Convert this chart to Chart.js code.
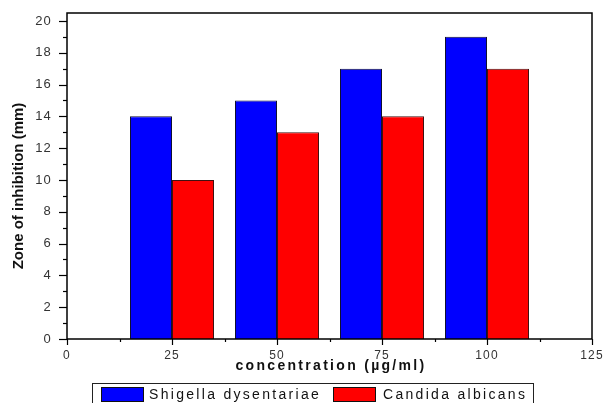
<!DOCTYPE html>
<html>
<head>
<meta charset="utf-8">
<script src="https://cdn.jsdelivr.net/npm/chart.js@4.4.0/dist/chart.umd.min.js"></script>
<style>
  html, body { margin: 0; padding: 0; background: #fff; }
  #wrap { width: 604px; height: 403px; position: relative; }
</style>
</head>
<body>
<div id="wrap"><canvas id="grafico"></canvas></div>
<script>
// Datos
const concentraciones = [25, 50, 75, 100];
const shigella = [14, 15, 17, 19];
const candida = [10, 13, 14, 17];
const nombresSeries = ['Shigella dysentariae', 'Candida albicans'];
const ticksX = [0, 25, 50, 75, 100, 125];
const ticksY = [0, 2, 4, 6, 8, 10, 12, 14, 16, 18, 20];

const tituloX = 'concentration (\u00b5g/ml)';
const tituloY = 'Zone of inhibition (mm)';

// Marcas, marco, titulos y leyenda dibujados a mano
const pluginMarco = {
    id: 'marco',
    beforeDraw(chart) {
        chart.ctx.letterSpacing = '1.2px';
    },
    afterDraw(chart) {
        const ctx = chart.ctx;
        const area = chart.chartArea;
        const x = chart.scales.x;
        const y = chart.scales.y;
        ctx.save();
        ctx.letterSpacing = '0px';
        ctx.strokeStyle = '#000';
        ctx.lineWidth = 1.5;
        ctx.strokeRect(area.left, area.top, area.right - area.left, area.bottom - area.top);

        // marcas eje Y
        ctx.lineWidth = 1.2;
        for (let v = 0; v <= 20; v++) {
            const py = Math.round(y.getPixelForValue(v)) + 0.5;
            const largo = v % 2 === 0 ? 8 : 4;
            ctx.beginPath();
            ctx.moveTo(area.left - largo, py);
            ctx.lineTo(area.left, py);
            ctx.stroke();
        }
        // marcas eje X
        for (let v = 0; v <= 125; v += 12.5) {
            const px = Math.round(x.getPixelForValue(v)) + 0.5;
            const largo = v % 25 === 0 ? 6 : 3;
            ctx.beginPath();
            ctx.moveTo(px, area.bottom);
            ctx.lineTo(px, area.bottom + largo);
            ctx.stroke();
        }

        // titulo X
        ctx.fillStyle = '#111';
        ctx.font = 'bold 14px "Liberation Sans", Arial, sans-serif';
        ctx.letterSpacing = '2.3px';
        ctx.textAlign = 'center';
        ctx.textBaseline = 'middle';
        ctx.fillText(tituloX, 331, 366);

        // titulo Y
        ctx.save();
        ctx.letterSpacing = '0px';
        ctx.font = 'bold 15px "Liberation Sans", Arial, sans-serif';
        ctx.translate(19, 186);
        ctx.rotate(-Math.PI / 2);
        ctx.fillText(tituloY, 0, 0);
        ctx.restore();

        // leyenda
        ctx.lineWidth = 1;
        ctx.strokeStyle = '#222';
        ctx.strokeRect(92.5, 383.5, 441, 24);
        ctx.font = '14px "Liberation Sans", Arial, sans-serif';
        ctx.letterSpacing = '2.3px';
        ctx.textAlign = 'left';
        const items = [
            { caja: 101, texto: 149 },
            { caja: 333, texto: 383 }
        ];
        chart.data.datasets.forEach((ds, i) => {
            const it = items[i];
            ctx.fillStyle = ds.backgroundColor;
            ctx.fillRect(it.caja, 387, 42, 14);
            ctx.strokeStyle = '#111';
            ctx.strokeRect(it.caja + 0.5, 387.5, 42, 14);
            ctx.fillStyle = '#111';
            ctx.fillText(ds.label, it.texto, 395);
        });
        ctx.restore();
    }
};

const ctx = document.getElementById('grafico').getContext('2d');
new Chart(ctx, {
    type: 'bar',
    data: {
        datasets: [
            {
                label: nombresSeries[0],
                data: concentraciones.map((c, i) => ({ x: c, y: shigella[i] })),
                backgroundColor: '#0000ff',
                borderColor: '#101030',
                borderWidth: 1
            },
            {
                label: nombresSeries[1],
                data: concentraciones.map((c, i) => ({ x: c, y: candida[i] })),
                backgroundColor: '#ff0000',
                borderColor: '#401010',
                borderWidth: 1
            }
        ]
    },
    options: {
        responsive: true,
        maintainAspectRatio: false,
        animation: false,
        categoryPercentage: 0.8,
        barPercentage: 1.0,
        layout: { padding: { left: 0, right: 12, top: 13, bottom: 0 } },
        plugins: {
            legend: { display: false },
            tooltip: { enabled: false }
        },
        scales: {
            x: {
                type: 'linear',
                min: 0,
                max: 125,
                offset: false,
                grid: { display: false },
                border: { display: false },
                afterBuildTicks(scale) {
                    scale.ticks = ticksX.map(v => ({ value: v }));
                },
                afterFit(scale) {
                    scale.height = 64;
                    scale.paddingLeft = 0;
                    scale.paddingRight = 0;
                },
                ticks: {
                    padding: 1,
                    maxRotation: 0,
                    color: '#333',
                    font: { family: '"Liberation Sans", Arial, sans-serif', size: 12 }
                }
            },
            y: {
                min: 0,
                max: 20.5,
                grid: { display: false },
                border: { display: false },
                afterBuildTicks(scale) {
                    scale.ticks = ticksY.map(v => ({ value: v }));
                },
                afterFit(scale) {
                    scale.width = 67;
                    scale.paddingTop = 0;
                    scale.paddingBottom = 0;
                },
                ticks: {
                    padding: 7,
                    color: '#333',
                    font: { family: '"Liberation Sans", Arial, sans-serif', size: 13 }
                }
            }
        }
    },
    plugins: [pluginMarco]
});
</script>
</body>
</html>
